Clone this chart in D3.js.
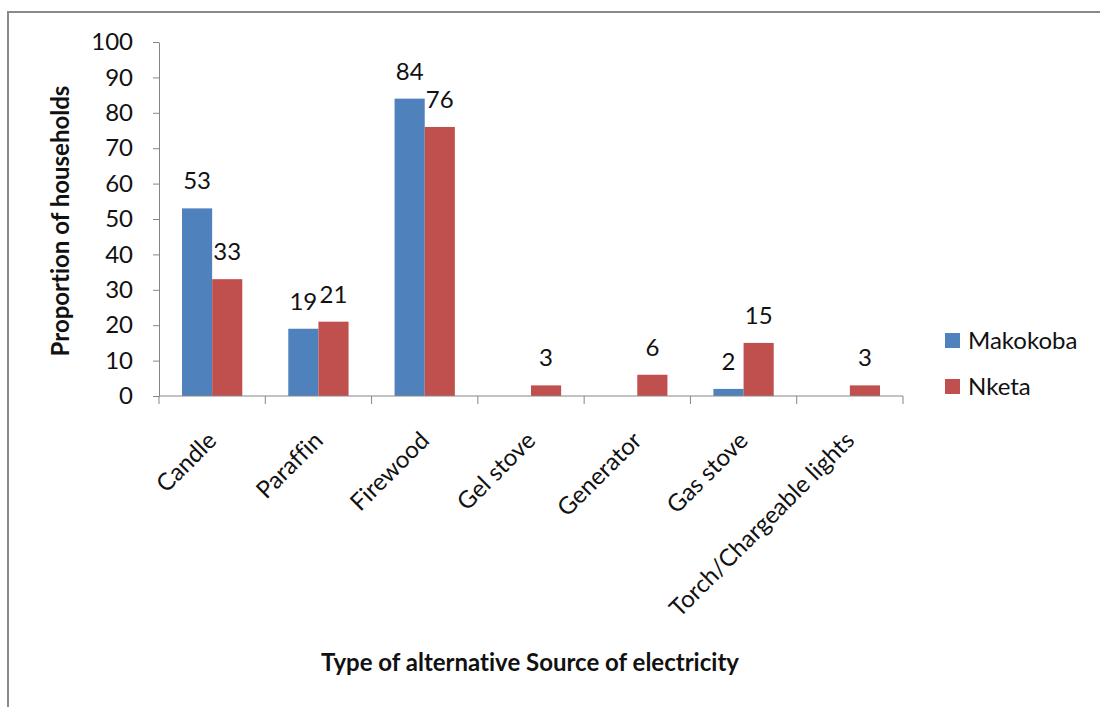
<!DOCTYPE html>
<html>
<head>
<meta charset="utf-8">
<script src="https://cdn.jsdelivr.net/npm/d3@7"></script>
<style>
  html, body { margin: 0; padding: 0; background: #fff; }
  svg { display: block; font-family: Lato, "Open Sans", sans-serif; font-variant-ligatures: none; font-feature-settings: "liga" 0; }
</style>
</head>
<body>
<svg id="chart" width="1100" height="707"></svg>
<script>
// Alternative sources of electricity by area (% of households)
const categories = ["Candle", "Paraffin", "Firewood", "Gel stove", "Generator", "Gas stove", "Torch/Chargeable lights"];
const seriesNames = ["Makokoba", "Nketa"];
const makokoba = [53, 19, 84, null, null, 2, null];
const nketa = [33, 21, 76, 3, 6, 15, 3];
const yTicks = [0, 10, 20, 30, 40, 50, 60, 70, 80, 90, 100];
const colors = ["#4F81BD", "#C0504D"];

const svg = d3.select("#chart");
const margin = { left: 159, right: 197, top: 42, bottom: 311 };
const W = 1100, H = 707;
const fs = 24;

// chart frame
svg.append("rect")
  .attr("x", 8).attr("y", 12)
  .attr("width", W).attr("height", H)
  .attr("fill", "none").attr("stroke", "#8a8a8a").attr("stroke-width", 2);

const x = d3.scaleBand().domain(categories)
  .range([margin.left, W - margin.right])
  .paddingInner(46 / 106.3).paddingOuter(23 / 106.3);
const xStep = (W - margin.right - margin.left) / categories.length;
const xs = d3.scaleBand().domain(seriesNames).range([0, x.bandwidth()]);
const y = d3.scaleLinear().domain([0, 100]).range([H - margin.bottom, margin.top]);

// y axis
const yAxis = svg.append("g")
  .attr("transform", `translate(${margin.left},0)`)
  .call(d3.axisLeft(y).tickValues(yTicks).tickSize(6).tickPadding(20).tickSizeOuter(0));
yAxis.select(".domain").attr("stroke", "#868686");
yAxis.selectAll(".tick line").attr("stroke", "#868686");
yAxis.selectAll(".tick text").attr("font-size", fs).attr("fill", "#111").attr("font-family", "Lato");

// bars
const rows = categories.map((c, i) => ({ c, vals: [makokoba[i], nketa[i]] }));
const groups = svg.append("g").selectAll("g").data(rows).join("g")
  .attr("transform", d => `translate(${x(d.c)},0)`);
groups.selectAll("rect")
  .data(d => d.vals.map((v, k) => ({ v, k })).filter(e => e.v != null))
  .join("rect")
  .attr("x", e => xs(seriesNames[e.k]))
  .attr("width", xs.bandwidth())
  .attr("y", e => y(e.v))
  .attr("height", e => y(0) - y(e.v))
  .attr("fill", e => colors[e.k]);
groups.selectAll("text")
  .data(d => d.vals.map((v, k) => ({ v, k })).filter(e => e.v != null))
  .join("text")
  .attr("x", e => xs(seriesNames[e.k]) + xs.bandwidth() / 2)
  .attr("y", e => y(e.v) - 19)
  .attr("text-anchor", "middle")
  .attr("font-size", fs).attr("fill", "#111")
  .text(e => e.v);

// x axis with category ticks at band boundaries
const xAxisG = svg.append("g").attr("transform", `translate(0,${y(0)})`);
xAxisG.append("line")
  .attr("x1", margin.left).attr("x2", W - margin.right)
  .attr("stroke", "#868686");
xAxisG.selectAll("line.tk").data(d3.range(categories.length + 1)).join("line")
  .attr("class", "tk")
  .attr("x1", i => margin.left + i * xStep).attr("x2", i => margin.left + i * xStep)
  .attr("y1", 0).attr("y2", 8)
  .attr("stroke", "#868686");
xAxisG.selectAll("text").data(categories).join("text")
  .attr("transform", c => `translate(${x(c) + x.bandwidth() / 2},40) rotate(-45)`)
  .attr("text-anchor", "end")
  .attr("dy", "0.35em")
  .attr("font-size", fs).attr("fill", "#111")
  .text(c => c);

// axis titles
svg.append("text")
  .attr("transform", `translate(69,221) rotate(-90)`)
  .attr("text-anchor", "middle")
  .attr("font-size", fs).attr("font-weight", "bold").attr("fill", "#111")
  .text("Proportion of households");
svg.append("text")
  .attr("x", 530).attr("y", 671)
  .attr("text-anchor", "middle")
  .attr("font-size", fs).attr("font-weight", "bold").attr("fill", "#111")
  .text("Type of alternative Source of electricity");

// legend
const legend = svg.append("g").selectAll("g").data(seriesNames).join("g")
  .attr("transform", (d, i) => `translate(945,${333 + i * 46})`);
legend.append("rect").attr("width", 15).attr("height", 15)
  .attr("fill", (d, i) => colors[i]);
legend.append("text").attr("x", 23).attr("y", 8).attr("dy", "0.35em")
  .attr("font-size", fs).attr("fill", "#111")
  .text(d => d);
</script>
</body>
</html>
